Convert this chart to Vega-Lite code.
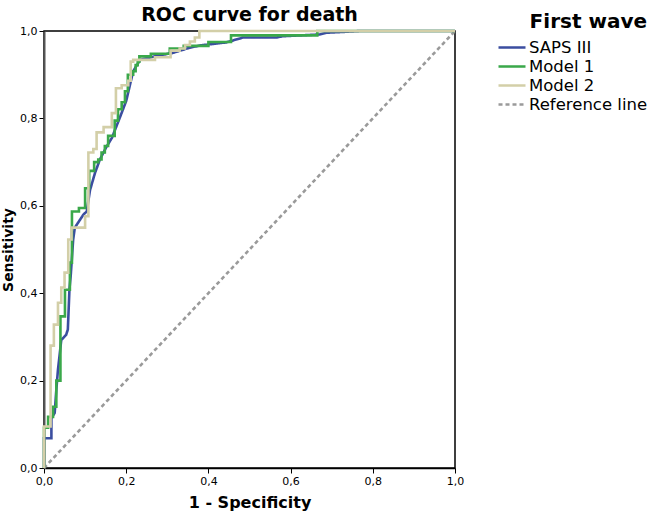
{
  "$schema": "https://vega.github.io/schema/vega-lite/v6.json",
  "autosize": "none",
  "width": 411,
  "height": 437,
  "padding": {"left": 44, "top": 31, "right": 194, "bottom": 43},
  "background": "white",
  "config": {
    "font": "DejaVu Sans",
    "view": {"stroke": "black", "strokeWidth": 1.5},
    "axis": {"grid": false, "labelFont": "DejaVu Sans", "titleFont": "DejaVu Sans"}
  },
  "title": {
    "text": "ROC curve for death",
    "fontSize": 19,
    "fontWeight": "bold",
    "font": "DejaVu Sans",
    "color": "black",
    "anchor": "middle",
    "frame": "group",
    "offset": 0,
    "dy": 13
  },
  "data": {
    "values": [
      {"s": "Reference line", "x": 0, "y": 0},
      {"s": "Reference line", "x": 1, "y": 1},

      {"s": "SAPS III", "x": 0, "y": 0},
      {"s": "SAPS III", "x": 0, "y": 0.068},
      {"s": "SAPS III", "x": 0.018, "y": 0.068},
      {"s": "SAPS III", "x": 0.018, "y": 0.114},
      {"s": "SAPS III", "x": 0.026, "y": 0.126},
      {"s": "SAPS III", "x": 0.03, "y": 0.179},
      {"s": "SAPS III", "x": 0.034, "y": 0.225},
      {"s": "SAPS III", "x": 0.042, "y": 0.293},
      {"s": "SAPS III", "x": 0.054, "y": 0.305},
      {"s": "SAPS III", "x": 0.058, "y": 0.317},
      {"s": "SAPS III", "x": 0.062, "y": 0.41},
      {"s": "SAPS III", "x": 0.065, "y": 0.44},
      {"s": "SAPS III", "x": 0.071, "y": 0.523},
      {"s": "SAPS III", "x": 0.075, "y": 0.55},
      {"s": "SAPS III", "x": 0.096, "y": 0.58},
      {"s": "SAPS III", "x": 0.104, "y": 0.587},
      {"s": "SAPS III", "x": 0.112, "y": 0.636},
      {"s": "SAPS III", "x": 0.124, "y": 0.675},
      {"s": "SAPS III", "x": 0.136, "y": 0.706},
      {"s": "SAPS III", "x": 0.152, "y": 0.735},
      {"s": "SAPS III", "x": 0.165, "y": 0.755},
      {"s": "SAPS III", "x": 0.185, "y": 0.803},
      {"s": "SAPS III", "x": 0.2, "y": 0.84},
      {"s": "SAPS III", "x": 0.217, "y": 0.908},
      {"s": "SAPS III", "x": 0.234, "y": 0.934},
      {"s": "SAPS III", "x": 0.274, "y": 0.943},
      {"s": "SAPS III", "x": 0.314, "y": 0.95},
      {"s": "SAPS III", "x": 0.355, "y": 0.962},
      {"s": "SAPS III", "x": 0.38, "y": 0.967},
      {"s": "SAPS III", "x": 0.444, "y": 0.974},
      {"s": "SAPS III", "x": 0.484, "y": 0.985},
      {"s": "SAPS III", "x": 0.566, "y": 0.985},
      {"s": "SAPS III", "x": 0.58, "y": 0.988},
      {"s": "SAPS III", "x": 0.67, "y": 0.992},
      {"s": "SAPS III", "x": 0.688, "y": 0.996},
      {"s": "SAPS III", "x": 0.77, "y": 1},
      {"s": "SAPS III", "x": 1, "y": 1},

      {"s": "Model 1", "x": 0, "y": 0},
      {"s": "Model 1", "x": 0, "y": 0.092},
      {"s": "Model 1", "x": 0.01, "y": 0.092},
      {"s": "Model 1", "x": 0.01, "y": 0.117},
      {"s": "Model 1", "x": 0.022, "y": 0.117},
      {"s": "Model 1", "x": 0.022, "y": 0.14},
      {"s": "Model 1", "x": 0.03, "y": 0.14},
      {"s": "Model 1", "x": 0.03, "y": 0.2},
      {"s": "Model 1", "x": 0.04, "y": 0.2},
      {"s": "Model 1", "x": 0.04, "y": 0.347},
      {"s": "Model 1", "x": 0.051, "y": 0.347},
      {"s": "Model 1", "x": 0.051, "y": 0.408},
      {"s": "Model 1", "x": 0.063, "y": 0.408},
      {"s": "Model 1", "x": 0.063, "y": 0.47},
      {"s": "Model 1", "x": 0.068, "y": 0.47},
      {"s": "Model 1", "x": 0.068, "y": 0.587},
      {"s": "Model 1", "x": 0.085, "y": 0.587},
      {"s": "Model 1", "x": 0.085, "y": 0.595},
      {"s": "Model 1", "x": 0.1, "y": 0.595},
      {"s": "Model 1", "x": 0.1, "y": 0.64},
      {"s": "Model 1", "x": 0.11, "y": 0.64},
      {"s": "Model 1", "x": 0.11, "y": 0.68},
      {"s": "Model 1", "x": 0.122, "y": 0.68},
      {"s": "Model 1", "x": 0.122, "y": 0.7},
      {"s": "Model 1", "x": 0.132, "y": 0.7},
      {"s": "Model 1", "x": 0.132, "y": 0.706},
      {"s": "Model 1", "x": 0.14, "y": 0.706},
      {"s": "Model 1", "x": 0.14, "y": 0.722},
      {"s": "Model 1", "x": 0.148, "y": 0.722},
      {"s": "Model 1", "x": 0.148, "y": 0.737},
      {"s": "Model 1", "x": 0.156, "y": 0.737},
      {"s": "Model 1", "x": 0.156, "y": 0.76},
      {"s": "Model 1", "x": 0.172, "y": 0.76},
      {"s": "Model 1", "x": 0.172, "y": 0.795},
      {"s": "Model 1", "x": 0.18, "y": 0.795},
      {"s": "Model 1", "x": 0.18, "y": 0.821},
      {"s": "Model 1", "x": 0.189, "y": 0.821},
      {"s": "Model 1", "x": 0.189, "y": 0.837},
      {"s": "Model 1", "x": 0.197, "y": 0.837},
      {"s": "Model 1", "x": 0.197, "y": 0.862},
      {"s": "Model 1", "x": 0.204, "y": 0.862},
      {"s": "Model 1", "x": 0.204, "y": 0.9},
      {"s": "Model 1", "x": 0.217, "y": 0.9},
      {"s": "Model 1", "x": 0.217, "y": 0.908},
      {"s": "Model 1", "x": 0.223, "y": 0.908},
      {"s": "Model 1", "x": 0.223, "y": 0.922},
      {"s": "Model 1", "x": 0.228, "y": 0.922},
      {"s": "Model 1", "x": 0.228, "y": 0.93},
      {"s": "Model 1", "x": 0.232, "y": 0.93},
      {"s": "Model 1", "x": 0.232, "y": 0.942},
      {"s": "Model 1", "x": 0.26, "y": 0.942},
      {"s": "Model 1", "x": 0.26, "y": 0.948},
      {"s": "Model 1", "x": 0.306, "y": 0.948},
      {"s": "Model 1", "x": 0.306, "y": 0.96},
      {"s": "Model 1", "x": 0.34, "y": 0.96},
      {"s": "Model 1", "x": 0.34, "y": 0.966},
      {"s": "Model 1", "x": 0.4, "y": 0.966},
      {"s": "Model 1", "x": 0.4, "y": 0.975},
      {"s": "Model 1", "x": 0.455, "y": 0.975},
      {"s": "Model 1", "x": 0.455, "y": 0.99},
      {"s": "Model 1", "x": 0.665, "y": 0.99},
      {"s": "Model 1", "x": 0.665, "y": 1},
      {"s": "Model 1", "x": 1, "y": 1},

      {"s": "Model 2", "x": 0, "y": 0},
      {"s": "Model 2", "x": 0, "y": 0.095},
      {"s": "Model 2", "x": 0.016, "y": 0.095},
      {"s": "Model 2", "x": 0.016, "y": 0.28},
      {"s": "Model 2", "x": 0.024, "y": 0.28},
      {"s": "Model 2", "x": 0.024, "y": 0.328},
      {"s": "Model 2", "x": 0.034, "y": 0.328},
      {"s": "Model 2", "x": 0.034, "y": 0.378},
      {"s": "Model 2", "x": 0.042, "y": 0.378},
      {"s": "Model 2", "x": 0.042, "y": 0.413},
      {"s": "Model 2", "x": 0.05, "y": 0.413},
      {"s": "Model 2", "x": 0.05, "y": 0.447},
      {"s": "Model 2", "x": 0.059, "y": 0.447},
      {"s": "Model 2", "x": 0.059, "y": 0.523},
      {"s": "Model 2", "x": 0.067, "y": 0.523},
      {"s": "Model 2", "x": 0.067, "y": 0.55},
      {"s": "Model 2", "x": 0.1, "y": 0.55},
      {"s": "Model 2", "x": 0.1, "y": 0.576},
      {"s": "Model 2", "x": 0.108, "y": 0.576},
      {"s": "Model 2", "x": 0.108, "y": 0.722},
      {"s": "Model 2", "x": 0.12, "y": 0.722},
      {"s": "Model 2", "x": 0.12, "y": 0.73},
      {"s": "Model 2", "x": 0.128, "y": 0.73},
      {"s": "Model 2", "x": 0.128, "y": 0.768},
      {"s": "Model 2", "x": 0.145, "y": 0.768},
      {"s": "Model 2", "x": 0.145, "y": 0.78},
      {"s": "Model 2", "x": 0.165, "y": 0.78},
      {"s": "Model 2", "x": 0.165, "y": 0.812},
      {"s": "Model 2", "x": 0.175, "y": 0.812},
      {"s": "Model 2", "x": 0.175, "y": 0.869},
      {"s": "Model 2", "x": 0.189, "y": 0.869},
      {"s": "Model 2", "x": 0.189, "y": 0.876},
      {"s": "Model 2", "x": 0.205, "y": 0.876},
      {"s": "Model 2", "x": 0.205, "y": 0.886},
      {"s": "Model 2", "x": 0.211, "y": 0.886},
      {"s": "Model 2", "x": 0.211, "y": 0.93},
      {"s": "Model 2", "x": 0.217, "y": 0.93},
      {"s": "Model 2", "x": 0.217, "y": 0.934},
      {"s": "Model 2", "x": 0.27, "y": 0.934},
      {"s": "Model 2", "x": 0.27, "y": 0.94},
      {"s": "Model 2", "x": 0.308, "y": 0.94},
      {"s": "Model 2", "x": 0.308, "y": 0.955},
      {"s": "Model 2", "x": 0.33, "y": 0.955},
      {"s": "Model 2", "x": 0.33, "y": 0.96},
      {"s": "Model 2", "x": 0.343, "y": 0.96},
      {"s": "Model 2", "x": 0.343, "y": 0.968},
      {"s": "Model 2", "x": 0.355, "y": 0.968},
      {"s": "Model 2", "x": 0.355, "y": 0.976},
      {"s": "Model 2", "x": 0.367, "y": 0.976},
      {"s": "Model 2", "x": 0.367, "y": 0.985},
      {"s": "Model 2", "x": 0.378, "y": 0.985},
      {"s": "Model 2", "x": 0.378, "y": 1},
      {"s": "Model 2", "x": 1, "y": 1}
    ]
  },
  "mark": {"type": "line", "strokeWidth": 2.6, "clip": false},
  "encoding": {
    "x": {
      "field": "x", "type": "quantitative",
      "scale": {"domain": [0, 1], "nice": false, "zero": false},
      "axis": {
        "values": [0, 0.2, 0.4, 0.6, 0.8, 1],
        "labelExpr": "replace(format(datum.value, '.1f'), '.', ',')",
        "title": "1 - Specificity",
        "titleFontSize": 16, "titleFontWeight": "bold", "titleColor": "black",
        "titlePadding": 8,
        "labelFontSize": 11, "labelColor": "black", "labelPadding": 2,
        "tickSize": 5, "tickColor": "black", "domainColor": "black", "domainWidth": 1.5,
        "labelFlush": false
      }
    },
    "y": {
      "field": "y", "type": "quantitative",
      "scale": {"domain": [0, 1], "nice": false, "zero": false},
      "axis": {
        "values": [0, 0.2, 0.4, 0.6, 0.8, 1],
        "labelExpr": "replace(format(datum.value, '.1f'), '.', ',')",
        "title": "Sensitivity",
        "titleFontSize": 14, "titleFontWeight": "bold", "titleColor": "black",
        "titlePadding": 4,
        "labelFontSize": 11, "labelColor": "black", "labelPadding": 2,
        "tickSize": 5, "tickColor": "black", "domainColor": "#555555", "domainWidth": 2,
        "labelFlush": false
      }
    },
    "color": {
      "field": "s", "type": "nominal",
      "scale": {
        "domain": ["SAPS III", "Model 1", "Model 2", "Reference line"],
        "range": ["#3b4ea0", "#3aa84a", "#d3cfa8", "#9a9a9a"]
      },
      "legend": {
        "title": "First wave",
        "orient": "none",
        "legendX": 453,
        "legendY": -19,
        "titleFontSize": 20, "titleFontWeight": "bold", "titleColor": "black",
        "titleAnchor": "end", "titlePadding": 6,
        "labelFontSize": 16.5, "labelColor": "black", "labelOffset": 2,
        "symbolType": "stroke", "symbolSize": 729, "symbolStrokeWidth": 2.6,
        "clipHeight": 19, "rowPadding": 0
      }
    },
    "strokeDash": {
      "field": "s", "type": "nominal",
      "scale": {
        "domain": ["SAPS III", "Model 1", "Model 2", "Reference line"],
        "range": [[1, 0], [1, 0], [1, 0], [4, 3]]
      },
      "legend": {
        "title": "First wave"
      }
    },
    "order": {"value": null}
  }
}
